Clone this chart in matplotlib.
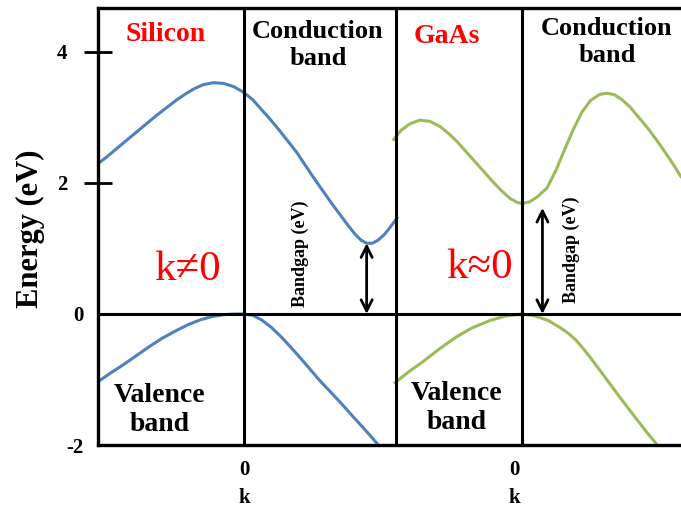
import matplotlib
matplotlib.use('Agg')
import matplotlib.pyplot as plt
import numpy as np

plt.rcParams['font.family'] = 'Liberation Serif'

# band energies (eV) vs k, k = 0 at the zone centre
si_cb_k = [-1.02, -0.95, -0.88, -0.81, -0.74, -0.67, -0.60, -0.53, -0.46, -0.40, -0.34, -0.28, -0.21, -0.14, -0.07,
           0.00, 0.06, 0.12, 0.18, 0.24, 0.30, 0.36, 0.42, 0.48, 0.54, 0.60, 0.66, 0.71, 0.76, 0.80, 0.84, 0.88,
           0.92, 0.96, 1.00, 1.05]
si_cb_e = [2.26, 2.38, 2.51, 2.64, 2.77, 2.90, 3.03, 3.15, 3.27, 3.36, 3.44, 3.50, 3.53, 3.52, 3.47,
           3.38, 3.27, 3.12, 2.97, 2.81, 2.64, 2.47, 2.27, 2.07, 1.88, 1.69, 1.51, 1.36, 1.22, 1.13, 1.08, 1.08,
           1.13, 1.21, 1.32, 1.47]
si_vb_k = [-1.01, -0.92, -0.83, -0.74, -0.65, -0.56, -0.47, -0.38, -0.30, -0.22, -0.14, -0.06, 0.00, 0.06, 0.12,
           0.19, 0.26, 0.35, 0.44, 0.52, 0.58, 0.66, 0.74, 0.81, 0.87, 0.92]
si_vb_e = [-1.05, -0.91, -0.78, -0.64, -0.50, -0.37, -0.26, -0.16, -0.09, -0.04, -0.01, 0.00, 0.00, -0.02, -0.09,
           -0.21, -0.36, -0.58, -0.81, -1.02, -1.16, -1.35, -1.55, -1.72, -1.87, -2.00]

gaas_cb_k = [-0.88, -0.83, -0.77, -0.70, -0.63, -0.56, -0.50, -0.44, -0.38, -0.32, -0.26, -0.20, -0.14, -0.08, -0.03,
             0.00, 0.05, 0.10, 0.17, 0.23, 0.29, 0.35, 0.41, 0.47, 0.53, 0.58, 0.63, 0.68, 0.74, 0.80, 0.86, 0.92,
             0.98, 1.04, 1.09]
gaas_cb_e = [2.66, 2.80, 2.90, 2.96, 2.94, 2.86, 2.75, 2.62, 2.47, 2.32, 2.17, 2.02, 1.88, 1.76, 1.70,
             1.69, 1.71, 1.78, 1.92, 2.18, 2.50, 2.81, 3.08, 3.26, 3.35, 3.37, 3.35, 3.28, 3.16, 3.00, 2.84, 2.66,
             2.47, 2.27, 2.09]
gaas_vb_k = [-0.87, -0.78, -0.68, -0.57, -0.45, -0.34, -0.22, -0.11, 0.00, 0.09, 0.18, 0.27, 0.32, 0.37, 0.42,
             0.47, 0.58, 0.68, 0.79, 0.86, 0.92]
gaas_vb_e = [-1.05, -0.89, -0.73, -0.54, -0.35, -0.21, -0.10, -0.03, 0.00, -0.03, -0.10, -0.22, -0.30, -0.40, -0.53,
             -0.67, -1.00, -1.30, -1.62, -1.82, -1.98]

# bandgap arrows: (k position, gap energy)
si_gap = (0.84, 1.08)
gaas_gap = (0.14, 1.62)

yticks = [4, 2, 0, -2]
gaas_offset = 1.904   # where GaAs k = 0 sits on the shared axis
divider = 1.041

blue = '#4F81BD'
green = '#9BBB59'

fig = plt.figure(figsize=(6.81, 5.09), dpi=100)
ax = fig.add_axes([0.1439, 0.1257, 0.8561, 0.8585])
ax.set_xlim(-1.0, 2.993)
ax.set_ylim(-2.0, 4.67)

lw = 2.2
ax.plot(si_cb_k, si_cb_e, color=blue, lw=lw, solid_capstyle='round')
ax.plot(si_vb_k, si_vb_e, color=blue, lw=lw, solid_capstyle='round')
ax.plot(np.array(gaas_cb_k) + gaas_offset, gaas_cb_e, color=green, lw=lw, solid_capstyle='round')
ax.plot(np.array(gaas_vb_k) + gaas_offset, gaas_vb_e, color=green, lw=lw, solid_capstyle='round')

for xv in [0, divider, gaas_offset]:
  ax.axvline(xv, color='black', lw=2.2)
ax.axhline(0, color='black', lw=2.2)

for k, gap in [si_gap, (gaas_gap[0] + gaas_offset, gaas_gap[1])]:
  ax.annotate('', xy=(k, gap), xytext=(k, 0),
              arrowprops=dict(arrowstyle='<->', color='black', lw=2.0, mutation_scale=20, shrinkA=0, shrinkB=0))

for sp in ['left', 'top', 'bottom']:
  ax.spines[sp].set_linewidth(2.4)
ax.spines['right'].set_visible(False)

ax.set_yticks(yticks)
ax.set_yticklabels([str(v) for v in yticks], fontsize=15, fontweight='bold')
ax.tick_params(axis='y', direction='inout', length=20, width=2, pad=12)
for t, v in zip(ax.yaxis.get_major_ticks(), yticks):
  if v <= 0:
    t.tick1line.set_visible(False)
    t.set_pad(0.5)

ax.set_xticks([0, gaas_offset - 0.05])
ax.set_xticklabels(['0\nk', '0\nk'], fontsize=15, fontweight='bold', linespacing=1.5)
ax.tick_params(axis='x', length=0, pad=11)

ax.set_ylabel('Energy (eV)', fontsize=22, fontweight='bold')
ax.yaxis.set_label_coords(-0.091, 0.494)

head = dict(fontweight='bold', ha='center', va='center', linespacing=1.2)
ax.text(-0.534, 4.26, 'Silicon', color='red', fontsize=20, **head)
ax.text(0.507, 4.11, 'Conduction\nband', color='black', fontsize=19, **head)
ax.text(1.39, 4.23, 'GaAs', color='red', fontsize=20, **head)
ax.text(2.486, 4.15, 'Conduction\nband', color='black', fontsize=19, **head)
ax.text(-0.575, -1.46, 'Valence\nband', color='black', fontsize=20, **head)
ax.text(1.459, -1.43, 'Valence\nband', color='black', fontsize=20, **head)

ax.text(-0.384, 0.67, 'k≠0', color='red', fontsize=31, ha='center', va='center')
ax.text(1.616, 0.70, 'k≈0', color='red', fontsize=31, ha='center', va='center')

ax.text(0.384, 0.92, 'Bandgap (eV)', rotation=90, fontsize=13, fontweight='bold', ha='center', va='center')
ax.text(gaas_offset + 0.34, 0.98, 'Bandgap (eV)', rotation=90, fontsize=13, fontweight='bold', ha='center', va='center')

plt.savefig('out.png', dpi=100)
